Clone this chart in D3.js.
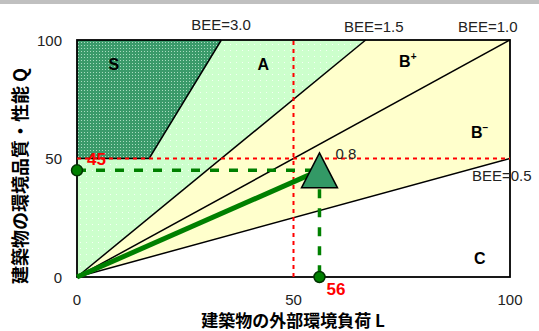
<!DOCTYPE html>
<html>
<head>
<meta charset="utf-8">
<script src="https://cdn.jsdelivr.net/npm/d3@7"></script>
<style>
  body { margin: 0; background: #fff; }
  svg { display: block; font-family: "Liberation Sans", Arial, sans-serif; }
  .jp { font-family: "Noto Sans CJK JP", sans-serif; font-weight: bold; }
</style>
</head>
<body>
<svg width="539" height="331"></svg>
<script>
// BEE boundary values and their labels
var beeValues = [3.0, 1.5, 1.0, 0.5];
var beeLabels = ["BEE=3.0", "BEE=1.5", "BEE=1.0", "BEE=0.5"];
// ranks
var rankNames = ["S", "A", "B", "B", "C"];
var rankSups = ["", "", "+", "\u2212", ""];
// tick labels
var xTicks = [0, 50, 100];
var yTicks = [0, 50, 100];
// evaluated building
var evalL = 56, evalQ = 45, evalBEE = 0.8;
var refL = 50, refQ = 50;

var svg = d3.select("svg"),
    width = +svg.attr("width"),
    height = +svg.attr("height");

var x = d3.scaleLinear().domain([0, 100]).range([77, 510]),
    y = d3.scaleLinear().domain([0, 100]).range([277, 40]);

var line = d3.line().x(function(d) { return x(d[0]); }).y(function(d) { return y(d[1]); });

// grey strip on top
svg.append("rect").attr("x", 0).attr("y", 0).attr("width", width).attr("height", 4).attr("fill", "#c0c0c0");

// patterns
var defs = svg.append("defs");
var pS = defs.append("pattern").attr("id", "patS").attr("width", 3).attr("height", 3).attr("patternUnits", "userSpaceOnUse");
pS.append("rect").attr("width", 3).attr("height", 3).attr("fill", "#3a9a6a");
pS.append("rect").attr("width", 1).attr("height", 1).attr("fill", "#a8dcc0");
var pA = defs.append("pattern").attr("id", "patA").attr("width", 6).attr("height", 6).attr("patternUnits", "userSpaceOnUse");
pA.append("rect").attr("width", 6).attr("height", 6).attr("fill", "#ccffcc");
pA.append("rect").attr("x", 2).attr("y", 2).attr("width", 1).attr("height", 1).attr("fill", "#f4fff4");

// where each BEE line meets the frame
function lineEnd(b) { return b >= 1 ? [100 / b, 100] : [100, 100 * b]; }

var s3 = beeValues[0], s15 = beeValues[1], s1 = beeValues[2], s05 = beeValues[3];

// regions
var regions = [
  { pts: [[0, 0], [100, 0], lineEnd(s05)], fill: "#ffffff" },
  { pts: [[0, 0], lineEnd(s05), [100, 100], lineEnd(s15)], fill: "#ffffcc" },
  { pts: [[0, 0], lineEnd(s15), [0, 100]], fill: "url(#patA)" },
  { pts: [[0, refQ], [refQ / s3, refQ], lineEnd(s3), [0, 100]], fill: "url(#patS)" }
];
svg.selectAll(".region").data(regions).enter().append("path")
    .attr("class", "region")
    .attr("d", function(d) { return line(d.pts) + "Z"; })
    .attr("fill", function(d) { return d.fill; });

// boundary lines
var bounds = [
  [[0, refQ], [refQ / s3, refQ], lineEnd(s3)],
  [[0, 0], lineEnd(s15)],
  [[0, 0], lineEnd(s1)],
  [[0, 0], lineEnd(s05)]
];
svg.selectAll(".bound").data(bounds).enter().append("path")
    .attr("class", "bound")
    .attr("d", line)
    .attr("fill", "none").attr("stroke", "#000").attr("stroke-width", 1.5);

// frame
svg.append("rect")
    .attr("x", x(0)).attr("y", y(100))
    .attr("width", x(100) - x(0)).attr("height", y(0) - y(100))
    .attr("fill", "none").attr("stroke", "#000").attr("stroke-width", 1.8);

// red reference lines
svg.append("path").attr("d", line([[refL, 0], [refL, 100]]))
    .attr("stroke", "#ff0000").attr("stroke-width", 2).attr("stroke-dasharray", "4,4").attr("fill", "none");
svg.append("path").attr("d", line([[0, refQ], [100, refQ]]))
    .attr("stroke", "#ff0000").attr("stroke-width", 2).attr("stroke-dasharray", "4,4").attr("fill", "none");

// evaluated BEE line
svg.append("path").attr("d", line([[0, 0], [evalL, evalQ]]))
    .attr("stroke", "#008000").attr("stroke-width", 5).attr("fill", "none");

// green dashed guides
svg.append("path").attr("d", line([[0, evalQ], [evalL, evalQ]]))
    .attr("stroke", "#008000").attr("stroke-width", 3.5).attr("stroke-dasharray", "9,10").attr("fill", "none");
svg.append("path").attr("d", line([[evalL, evalQ], [evalL, 0]]))
    .attr("stroke", "#008000").attr("stroke-width", 3.5).attr("stroke-dasharray", "9,10").attr("fill", "none");

// triangle marker
var tx = x(evalL), ty = y(evalQ);
svg.append("path")
    .attr("d", "M" + tx + "," + (ty - 17.5) + "L" + (tx + 18) + "," + (ty + 17.5) + "L" + (tx - 18) + "," + (ty + 17.5) + "Z")
    .attr("fill", "#339966").attr("stroke", "#000").attr("stroke-width", 1.5);

// axis circles
svg.selectAll(".dot").data([[0, evalQ], [evalL, 0]]).enter().append("circle")
    .attr("class", "dot")
    .attr("cx", function(d) { return x(d[0]); })
    .attr("cy", function(d) { return y(d[1]); })
    .attr("r", 5.5)
    .attr("fill", "#008000").attr("stroke", "#003300").attr("stroke-width", 1.5);

// tick labels
svg.selectAll(".xt").data(xTicks).enter().append("text")
    .attr("x", function(d) { return x(d); }).attr("y", 305)
    .attr("text-anchor", "middle").attr("font-size", 15).attr("fill", "#222")
    .text(function(d) { return d; });
svg.selectAll(".yt").data(yTicks).enter().append("text")
    .attr("x", 62).attr("y", function(d) { return y(d) + 5.5; })
    .attr("text-anchor", "end").attr("font-size", 15).attr("fill", "#222")
    .text(function(d) { return d; });

// BEE labels
var beeLabelPos = [[221, 30, "middle"], [344, 32, "start"], [458, 32, "start"], [472, 181, "start"]];
svg.selectAll(".bee").data(beeLabels).enter().append("text")
    .attr("x", function(d, i) { return beeLabelPos[i][0]; })
    .attr("y", function(d, i) { return beeLabelPos[i][1]; })
    .attr("text-anchor", function(d, i) { return beeLabelPos[i][2]; })
    .attr("font-size", 15).attr("fill", "#222")
    .text(function(d) { return d; });

// rank labels
var rankPos = [[8.5, 90], [43, 90], [76.4, 91], [93, 61], [93, 8]];
var rk = svg.selectAll(".rank").data(rankNames).enter().append("text")
    .attr("class", "rank")
    .attr("x", function(d, i) { return x(rankPos[i][0]); })
    .attr("y", function(d, i) { return y(rankPos[i][1]) + 6; })
    .attr("text-anchor", "middle").attr("font-size", 16).attr("font-weight", "bold");
rk.append("tspan").text(function(d) { return d; });
rk.append("tspan").attr("dy", -7).attr("font-size", 10).text(function(d, i) { return rankSups[i]; });

// evaluated value labels
svg.append("text").attr("x", tx + 16).attr("y", ty - 11).attr("font-size", 15).attr("fill", "#222").text(evalBEE.toFixed(1));
svg.append("text").attr("x", x(0) + 10).attr("y", y(refQ) + 6).attr("font-size", 17).attr("font-weight", "bold").attr("fill", "#ff0000").text(evalQ);
svg.append("text").attr("x", x(evalL) + 7).attr("y", y(0) + 18).attr("font-size", 17).attr("font-weight", "bold").attr("fill", "#ff0000").text(evalL);

// axis titles
svg.append("text").attr("class", "jp")
    .attr("x", 293).attr("y", 327).attr("text-anchor", "middle").attr("font-size", 17)
    .text("建築物の外部環境負荷 L");
svg.append("text").attr("class", "jp")
    .attr("transform", "translate(27,176) rotate(-90)")
    .attr("text-anchor", "middle").attr("font-size", 18)
    .text("建築物の環境品質・性能 Q");
</script>
</body>
</html>
